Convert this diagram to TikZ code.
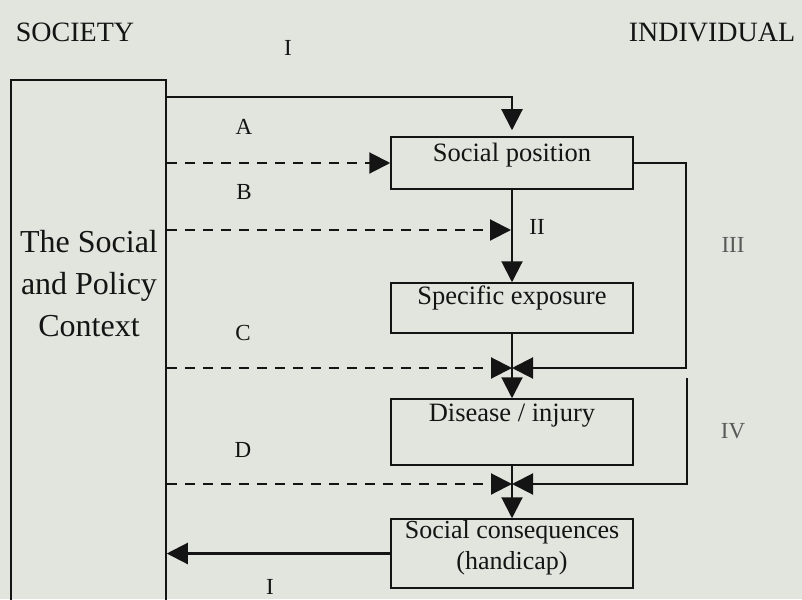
\documentclass[tikz,border=0pt]{standalone}
\usepackage{fontspec}
\setmainfont{Liberation Serif}
\usetikzlibrary{arrows.meta,positioning}
\definecolor{paper}{RGB}{226,229,222}
\definecolor{ink}{RGB}{20,20,20}
\begin{document}
\begin{tikzpicture}[x=1pt,y=-1pt,
  line width=2.1pt, draw=ink,
  arr/.style={-{Triangle[length=21pt,width=21pt]}},
  dsh/.style={dash pattern=on 10pt off 8pt},
  box/.style={draw, line width=1.5pt, minimum width=242pt, inner sep=0pt},
  boxtxt/.style={font=\fontsize{26.5}{31}\selectfont, inner sep=0pt, align=center, text=ink},
  lbl/.style={font=\fontsize{23}{26}\selectfont, inner sep=0pt, text=ink},
  glbl/.style={font=\fontsize{23}{26}\selectfont, inner sep=0pt, text=black!65},
  head/.style={font=\fontsize{28}{32}\selectfont, inner sep=0pt, text=ink}]
\fill[paper] (0,0) rectangle (802,599);
\useasboundingbox (0,0) rectangle (802,599);

% left context box
\node[draw, line width=1.5pt, minimum width=155pt, minimum height=540pt, inner sep=0pt] (ctx) at (88.5,350) {};
\node[font=\fontsize{32}{42}\selectfont, align=center, inner sep=0pt, text=ink] (ctxt) at (89,284) {The Social\\and Policy\\Context};

% headings
\node[head] (soc) at (75,32) {SOCIETY};
\node[head] (ind) at (712,32) {INDIVIDUAL};

% boxes
\node[box, minimum height=52pt] (sp) at (512,163) {};
\node[boxtxt] (spt) at (512,155) {Social position};
\node[box, minimum height=50pt] (se) at (512,308) {};
\node[boxtxt] (set) at (512,298) {Specific exposure};
\node[box, minimum height=66pt] (di) at (512,432) {};
\node[boxtxt] (dit) at (512,416) {Disease / injury};
\node[box, minimum height=69pt] (sc) at (512,553.5) {};
\node[boxtxt, font=\fontsize{26}{31}\selectfont] (sct) at (512,548) {Social consequences\\(handicap)};

% helper coordinates
\coordinate (yI) at (0,97);
\coordinate (jB) at (512,230);
\coordinate (jC) at (512,368);
\coordinate (jD) at (512,484);
\coordinate (xIII) at (686,0);
\coordinate (ivtop) at (687,378);

% arrow I (top)
\draw[arr, shorten >=6pt] (ctx.east |- yI) -| (sp.north);
% A
\draw[arr, dsh] (ctx.east |- sp.west) -- (sp.west);
% B
\draw[arr, dsh, shorten >=1pt] (ctx.east |- jB) -- (jB);
% II
\draw[arr] (sp.south) -- (se.north);
% C junction
\draw[arr, dsh] (ctx.east |- jC) -- (jC);
\draw[arr] (sp.east) -| (xIII |- jC) -- (jC);
\draw[arr] (se.south) -- (di.north);
% D junction
\draw[arr, dsh] (ctx.east |- jD) -- (jD);
\draw[arr] (ivtop) |- (jD);
\draw[arr] (di.south) -- (sc.north);
% I (bottom)
\draw[arr] (sc.west) -- (ctx.east |- sc.west);

% labels
\node[lbl] (lI1) at (288,48) {I};
\node[lbl] (lA) at (244,127) {A};
\node[lbl] (lB) at (244,192) {B};
\node[lbl] (lII) at (537,227) {II};
\node[glbl] (lIII) at (733,245) {III};
\node[lbl] (lC) at (243,333) {C};
\node[glbl] (lIV) at (733,431) {IV};
\node[lbl] (lD) at (243,450) {D};
\node[lbl] (lI2) at (270,587) {I};
\end{tikzpicture}
\end{document}
